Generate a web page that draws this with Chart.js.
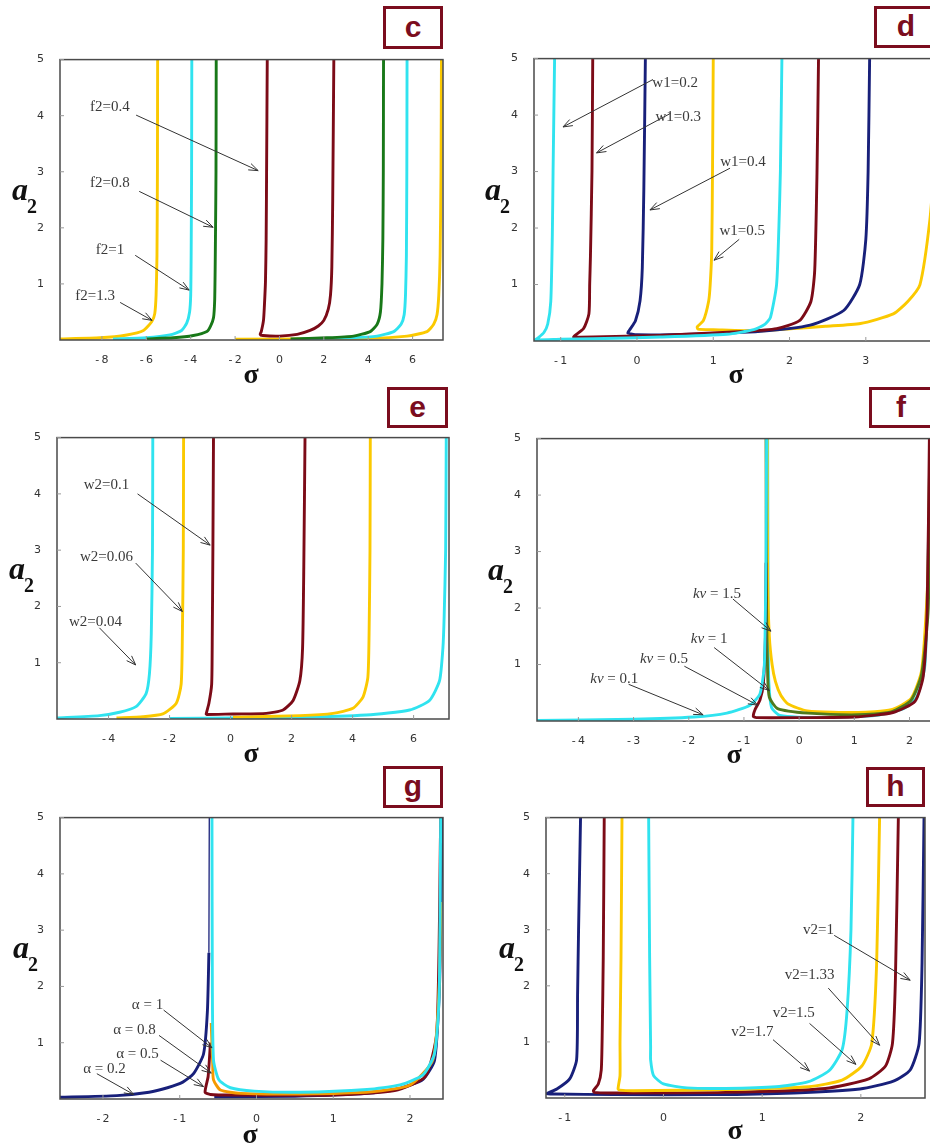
<!DOCTYPE html>
<html>
<head>
<meta charset="utf-8">
<script src="https://cdn.jsdelivr.net/npm/chart.js@4.4.1/dist/chart.umd.min.js"></script>
<style>
  body { margin: 0; width: 930px; height: 1147px; overflow: hidden; background: #fff; position: relative; }
  canvas { position: absolute; }
  .tag { position: absolute; box-sizing: border-box; border: 3px solid #7b0d1e; background: #fff; color: #7b0d1e;
         font: bold 30px "Liberation Sans", Arial, sans-serif; text-align: center; }
  .ya { position: absolute; font: bold italic 32px "Liberation Serif", serif; line-height: 32px; color: #111; }
  .y2 { position: absolute; font: bold 20px "Liberation Serif", serif; line-height: 20px; color: #111; }
  .xs { position: absolute; width: 40px; text-align: center; font: bold 28px "Liberation Serif", serif; line-height: 28px; color: #111; }
</style>
</head>
<body>
<script>
// tick labels
const yTicks = [1, 2, 3, 4, 5];
const cTicks = [-8, -6, -4, -2, 0, 2, 4, 6];
const dTicks = [-1, 0, 1, 2, 3];
const eTicks = [-4, -2, 0, 2, 4, 6];
const fTicks = [-4, -3, -2, -1, 0, 1, 2];
const gTicks = [-2, -1, 0, 1, 2];
const hTicks = [-1, 0, 1, 2];

// panel c : f2 = 0.4 (red), 0.8 (green), 1 (cyan), 1.3 (yellow)
const cRed = [[-0.55,5],[-0.58,3],[-0.6,1.8],[-0.63,1.05],[-0.68,0.6],[-0.72,0.35],[-0.82,0.15],[-0.87,0.1],[-0.75,0.08],[0,0.07],[0.8,0.1],[1.38,0.17],[1.75,0.25],[2.0,0.35],[2.2,0.55],[2.3,0.8],[2.36,1.3],[2.4,2.5],[2.45,5]];
const cGreenL = [[-2.85,5],[-2.86,3],[-2.88,2],[-2.9,1.2],[-2.92,0.7],[-2.97,0.4],[-3.1,0.25],[-3.27,0.15],[-3.88,0.08],[-4.78,0.04],[-6,0.02]];
const cGreenR = [[4.69,5],[4.68,3],[4.66,1.8],[4.62,1.0],[4.55,0.5],[4.4,0.28],[4.09,0.15],[3.34,0.07],[2.13,0.04],[0.5,0.02]];
const cCyanL = [[-3.95,5],[-3.96,3],[-3.98,1.5],[-4.0,0.8],[-4.05,0.5],[-4.18,0.3],[-4.41,0.17],[-4.94,0.09],[-6,0.04],[-7.5,0.02]];
const cCyanR = [[5.75,5],[5.74,3],[5.72,1.5],[5.68,0.8],[5.62,0.45],[5.48,0.28],[5.15,0.15],[4.4,0.07],[3.19,0.04],[1,0.02]];
const cYellowL = [[-5.49,5],[-5.5,3],[-5.52,1.5],[-5.56,0.8],[-5.62,0.47],[-5.75,0.33],[-6.13,0.17],[-6.88,0.09],[-8.08,0.04],[-9.9,0.02]];
const cYellowR = [[7.3,5],[7.28,3],[7.24,1.5],[7.18,0.8],[7.1,0.45],[6.95,0.28],[6.65,0.15],[5.75,0.07],[3.94,0.03],[-2,0.015]];

// panel d : w1 = 0.2 (cyan), 0.3 (red), 0.4 (navy), 0.5 (yellow)
const dCyan = [[-1.08,5],[-1.1,3],[-1.11,1.85],[-1.13,0.7],[-1.17,0.3],[-1.22,0.15],[-1.3,0.05],[-1.33,0.02],[-1.0,0.03],[-0.57,0.04],[0.3,0.07],[1.18,0.12],[1.53,0.2],[1.68,0.3],[1.75,0.42],[1.83,1.0],[1.86,2.0],[1.88,3],[1.9,5]];
const dRed = [[-0.58,5],[-0.59,3],[-0.61,1.5],[-0.62,1.0],[-0.63,0.48],[-0.7,0.22],[-0.81,0.1],[-0.83,0.07],[-0.57,0.07],[0.3,0.1],[1.4,0.17],[1.83,0.22],[2.13,0.36],[2.28,0.7],[2.33,1.25],[2.36,2.98],[2.38,5]];
const dNavy = [[0.11,5],[0.09,2.7],[0.07,1.3],[0.04,0.71],[-0.02,0.36],[-0.1,0.19],[-0.12,0.14],[0,0.11],[0.74,0.12],[1.62,0.17],[2.27,0.28],[2.71,0.54],[2.92,1.0],[3.0,1.8],[3.03,3],[3.05,5]];
const dYellow = [[1.0,5],[0.99,3],[0.98,1.6],[0.96,1.0],[0.94,0.71],[0.87,0.36],[0.79,0.25],[0.8,0.21],[1.0,0.2],[1.62,0.18],[2.05,0.22],[2.47,0.26],[2.93,0.31],[3.36,0.48],[3.55,0.7],[3.71,1.0],[3.84,2.15],[3.92,3.5]];

// panel e : w2 = 0.1 (red), 0.06 (yellow), 0.04 (cyan)
const eRed = [[-0.56,5],[-0.58,3],[-0.6,1.5],[-0.62,0.62],[-0.71,0.28],[-0.8,0.09],[-0.78,0.08],[0.08,0.09],[1.17,0.1],[1.72,0.16],[2.05,0.33],[2.27,0.68],[2.36,1.26],[2.4,2.7],[2.44,5]];
const eYellowL = [[-1.54,5],[-1.55,3],[-1.58,1.5],[-1.62,0.62],[-1.78,0.28],[-2.22,0.09],[-2.87,0.04],[-3.74,0.02]];
const eYellowR = [[4.58,5],[4.57,3],[4.54,1.5],[4.5,0.74],[4.34,0.39],[4.01,0.19],[3.36,0.1],[2.27,0.06],[0.08,0.03]];
const eCyanL = [[-2.55,5],[-2.56,3],[-2.6,1.5],[-2.66,0.8],[-2.77,0.45],[-3.1,0.22],[-3.64,0.12],[-4.3,0.06],[-5.7,0.02]];
const eCyanR = [[7.07,5],[7.05,3],[7.0,1.8],[6.96,1.26],[6.85,0.68],[6.52,0.33],[5.87,0.16],[4.45,0.07],[2.27,0.03],[-2,0.01]];

// panel f : kv = 0.1 (cyan), 0.5 (red), 1 (green), 1.5 (yellow)
const fCyanL = [[-4.8,0.01],[-3,0.03],[-1.91,0.07],[-1.31,0.14],[-0.89,0.28],[-0.71,0.48],[-0.63,1.0],[-0.6,3.0],[-0.59,5]];
const fCyanR = [[-0.57,5],[-0.56,1.5],[-0.55,0.7],[-0.5,0.24],[-0.35,0.1],[0.5,0.06],[1.4,0.1],[1.89,0.22],[2.13,0.42],[2.28,1.0],[2.34,3],[2.37,5]];
const fRed = [[-0.6,2.8],[-0.61,1.5],[-0.65,0.65],[-0.71,0.37],[-0.8,0.2],[-0.83,0.08],[-0.78,0.06],[0,0.06],[1,0.07],[1.7,0.15],[2.1,0.35],[2.25,0.8],[2.32,2],[2.36,5]];
const fGreen = [[-0.6,5],[-0.59,2],[-0.57,0.8],[-0.54,0.42],[-0.39,0.22],[0.16,0.14],[1.07,0.11],[1.67,0.16],[2.03,0.37],[2.22,0.83],[2.34,2],[2.37,5]];
const fYellow = [[-0.58,5],[-0.57,2.5],[-0.54,1.5],[-0.49,1.0],[-0.43,0.7],[-0.33,0.45],[-0.2,0.3],[0.15,0.18],[1.07,0.15],[1.67,0.2],[2.03,0.4],[2.22,0.9],[2.33,2.5],[2.37,5]];

// panel g : alpha = 0.2 (navy), 0.5 (red), 0.8 (orange), 1 (cyan)
const gNavyL = [[-2.6,0.03],[-1.82,0.06],[-1.4,0.12],[-1.16,0.2],[-0.96,0.3],[-0.82,0.45],[-0.69,0.8],[-0.64,1.55],[-0.62,2.6]];
const gNavyTop = [[-0.62,2.6],[-0.615,5]];
const gNavyR = [[-0.55,0.04],[0.5,0.05],[1.44,0.1],[1.87,0.19],[2.17,0.35],[2.32,0.69],[2.38,1.84],[2.4,3.0],[2.42,5]];
const gRed = [[-0.6,1.0],[-0.63,0.4],[-0.67,0.12],[-0.6,0.08],[-0.3,0.07],[1,0.07],[1.8,0.15],[2.2,0.4],[2.35,1.2],[2.4,5]];
const gOrange = [[-0.59,1.35],[-0.57,0.6],[-0.56,0.34],[-0.47,0.16],[-0.21,0.1],[0.57,0.09],[1.5,0.13],[2.0,0.25],[2.3,0.7],[2.38,2],[2.4,3.5]];
const gCyan = [[-0.58,5],[-0.575,2],[-0.56,0.69],[-0.49,0.34],[-0.34,0.2],[-0.03,0.14],[0.57,0.12],[1.44,0.17],[1.87,0.25],[2.17,0.43],[2.32,0.81],[2.38,1.84],[2.4,5]];

// panel h : v2 = 1 (navy), 1.33 (red), 1.5 (yellow), 1.7 (cyan)
const hNavy = [[-0.84,5],[-0.86,3.0],[-0.87,1.85],[-0.88,0.68],[-0.95,0.34],[-1.08,0.16],[-1.18,0.08],[-1.1,0.07],[-0.5,0.06],[0.5,0.06],[1.32,0.09],[1.99,0.16],[2.33,0.3],[2.5,0.5],[2.59,0.97],[2.62,2.4],[2.64,5]];
const hRed = [[-0.6,5],[-0.61,2.5],[-0.62,1.2],[-0.63,0.5],[-0.66,0.25],[-0.71,0.13],[-0.7,0.1],[-0.55,0.09],[0.63,0.1],[1.64,0.17],[2.08,0.34],[2.25,0.57],[2.32,0.97],[2.35,2.1],[2.38,5]];
const hYellow = [[-0.42,5],[-0.43,2.5],[-0.44,1.0],[-0.44,0.4],[-0.46,0.16],[-0.44,0.14],[-0.3,0.13],[0.63,0.15],[1.47,0.2],[1.81,0.32],[2.01,0.57],[2.11,0.97],[2.16,2.4],[2.19,5]];
const hCyan = [[-0.15,5],[-0.14,2.5],[-0.13,0.9],[-0.13,0.68],[-0.1,0.4],[0,0.25],[0.24,0.18],[0.63,0.17],[1.14,0.2],[1.47,0.29],[1.68,0.49],[1.81,0.86],[1.86,1.55],[1.9,3.0],[1.92,5]];

// annotations: text, text x/y, arrow from x/y, arrow to x/y (data units)
const cNotes = [["f2=0.4",-7.64,4.15,-6.46,4.01,-0.96,3.02],["f2=0.8",-7.64,2.79,-6.32,2.65,-2.99,2.01],["f2=1",-7.64,1.61,-6.5,1.51,-4.07,0.89],["f2=1.3",-8.31,0.79,-7.18,0.67,-5.74,0.35]];
const dNotes = [["w1=0.2",0.5,4.57,0.21,4.63,-0.97,3.79],["w1=0.3",0.54,3.97,0.44,4.03,-0.53,3.33],["w1=0.4",1.39,3.16,1.22,3.06,0.17,2.32],["w1=0.5",1.38,1.95,1.34,1.8,1.01,1.43]];
const eNotes = [["w2=0.1",-4.07,4.15,-3.05,4.0,-0.67,3.09],["w2=0.06",-4.07,2.88,-3.11,2.77,-1.58,1.91],["w2=0.04",-4.43,1.73,-4.3,1.62,-3.11,0.96]];
const fNotes = [["kv = 1.5",-1.49,2.25,-1.2,2.16,-0.51,1.59],["kv = 1",-1.63,1.45,-1.54,1.3,-0.54,0.54],["kv = 0.5",-2.45,1.09,-2.08,0.97,-0.75,0.28],["kv = 0.1",-3.35,0.75,-3.09,0.65,-1.74,0.11]];
const gNotes = [["\u03b1 = 1",-1.42,1.67,-1.21,1.58,-0.58,0.91],["\u03b1 = 0.8",-1.59,1.22,-1.27,1.13,-0.59,0.46],["\u03b1 = 0.5",-1.55,0.8,-1.25,0.69,-0.69,0.22],["\u03b1 = 0.2",-1.98,0.53,-2.08,0.45,-1.6,0.08]];
const hNotes = [["v2=1",1.57,3.0,1.73,2.9,2.5,2.1],["v2=1.33",1.48,2.19,1.67,1.96,2.19,0.94],["v2=1.5",1.32,1.51,1.48,1.33,1.95,0.6],["v2=1.7",0.9,1.17,1.11,1.04,1.48,0.48]];

const YEL = "#fbc900", CYA = "#30e3ef", GRN = "#187818", RED = "#7c0b17", NAV = "#18207a", ORA = "#f59a00", OLV = "#4f7a1c";

const panels = [
  { tag: "c", box: [60, 53, 443, 340], xr: [-9.89, 7.37], ticks: cTicks, notes: cNotes,
    lines: [[cRed, RED], [cGreenL, GRN], [cGreenR, GRN], [cCyanL, CYA], [cCyanR, CYA], [cYellowL, YEL], [cYellowR, YEL]],
    tagBox: [383, 6, 60, 43], ya: [12, 200], xs: [251, 377] },
  { tag: "d", box: [534, 52, 936, 341], xr: [-1.35, 3.92], ticks: dTicks, notes: dNotes,
    lines: [[dCyan, CYA], [dRed, RED], [dNavy, NAV], [dYellow, YEL]],
    tagBox: [874, 6, 64, 42], ya: [485, 200], xs: [736, 377] },
  { tag: "e", box: [57, 431, 449, 719], xr: [-5.69, 7.16], ticks: eTicks, notes: eNotes,
    lines: [[eRed, RED], [eYellowL, YEL], [eYellowR, YEL], [eCyanL, CYA], [eCyanR, CYA]],
    tagBox: [387, 387, 61, 41], ya: [9, 579], xs: [251, 756] },
  { tag: "f", box: [537, 432, 936, 721], xr: [-4.75, 2.48], ticks: fTicks, notes: fNotes,
    lines: [[fCyanL, CYA], [fRed, RED], [fGreen, OLV], [fYellow, YEL], [fCyanR, CYA]],
    tagBox: [869, 387, 64, 41], ya: [488, 580], xs: [734, 757] },
  { tag: "g", box: [60, 811, 443, 1099], xr: [-2.56, 2.43], ticks: gTicks, notes: gNotes,
    lines: [[gCyan, CYA], [gOrange, ORA], [gRed, RED], [gNavyL, NAV], [gNavyR, NAV], [gNavyTop, NAV, 1.3]],
    tagBox: [383, 766, 60, 42], ya: [13, 958], xs: [250, 1137] },
  { tag: "h", box: [546, 811, 925, 1098], xr: [-1.19, 2.65], ticks: hTicks, notes: hNotes,
    lines: [[hCyan, CYA], [hYellow, YEL], [hRed, RED], [hNavy, NAV]],
    tagBox: [866, 767, 59, 40], ya: [499, 958], xs: [735, 1133] }
];

const PADL = 45, PADT = 8, PADR = 8, PADB = 28;

const framePlugin = {
  id: "frame",
  afterDatasetsDraw(chart, args, opts) {
    const { ctx, chartArea: a, scales: { x, y } } = chart;
    ctx.save();
    ctx.strokeStyle = "#4a4a4a";
    ctx.lineWidth = 1.5;
    ctx.strokeRect(a.left, a.top, a.right - a.left, a.bottom - a.top);
    // small inward tick marks
    ctx.strokeStyle = "#999";
    ctx.lineWidth = 1;
    opts.ticks.forEach(v => {
      const px = x.getPixelForValue(v);
      ctx.beginPath(); ctx.moveTo(px, a.bottom); ctx.lineTo(px, a.bottom - 4); ctx.stroke();
    });
    yTicks.forEach(v => {
      const py = y.getPixelForValue(v);
      ctx.beginPath(); ctx.moveTo(a.left, py); ctx.lineTo(a.left + 4, py); ctx.stroke();
    });
    // annotations
    opts.notes.forEach(n => {
      const [txt, tx, ty, fx, fy, ax, ay] = n;
      const x0 = x.getPixelForValue(fx), y0 = y.getPixelForValue(fy);
      const x1 = x.getPixelForValue(ax), y1 = y.getPixelForValue(ay);
      ctx.strokeStyle = "#333";
      ctx.lineWidth = 1;
      ctx.beginPath(); ctx.moveTo(x0, y0); ctx.lineTo(x1, y1); ctx.stroke();
      const ang = Math.atan2(y1 - y0, x1 - x0), L = 10;
      ctx.beginPath();
      ctx.moveTo(x1 - L * Math.cos(ang - 0.35), y1 - L * Math.sin(ang - 0.35));
      ctx.lineTo(x1, y1);
      ctx.lineTo(x1 - L * Math.cos(ang + 0.35), y1 - L * Math.sin(ang + 0.35));
      ctx.stroke();
      const cx = x.getPixelForValue(tx), cy = y.getPixelForValue(ty);
      ctx.fillStyle = "#3a3a3a";
      ctx.textBaseline = "middle";
      ctx.textAlign = "left";
      if (txt.startsWith("kv")) {
        const rest = txt.slice(2);
        ctx.font = 'italic 15px "Liberation Serif"';
        const w1 = ctx.measureText("kv").width;
        ctx.font = '15px "Liberation Serif"';
        const w2 = ctx.measureText(rest).width;
        const sx = cx - (w1 + w2) / 2;
        ctx.font = 'italic 15px "Liberation Serif"';
        ctx.fillText("kv", sx, cy);
        ctx.font = '15px "Liberation Serif"';
        ctx.fillText(rest, sx + w1, cy);
      } else {
        ctx.font = '15px "Liberation Serif"';
        ctx.textAlign = "center";
        ctx.fillText(txt, cx, cy);
      }
    });
    ctx.restore();
  }
};

function lineSet(pts, color, w) {
  return {
    data: pts.map(p => ({ x: p[0], y: p[1] })),
    borderColor: color, borderWidth: w || 2.9, pointRadius: 0,
    showLine: true, fill: false, tension: 0.2
  };
}

function fmt(v) { return v < 0 ? "-\u2009" + Math.abs(v) : String(v); }

panels.forEach(p => {
  const [L, T, R, B] = p.box;
  const W = R - L + PADL + PADR, H = B - T + PADT + PADB;
  const cv = document.createElement("canvas");
  cv.width = W; cv.height = H;
  cv.style.width = W + "px"; cv.style.height = H + "px";
  cv.style.left = (L - PADL) + "px"; cv.style.top = (T - PADT) + "px";
  document.body.appendChild(cv);

  new Chart(cv, {
    type: "scatter",
    data: { datasets: p.lines.map(l => lineSet(l[0], l[1], l[2])) },
    options: {
      responsive: false, animation: false, events: [],
      layout: { padding: { top: PADT, right: PADR, left: 0, bottom: 0 } },
      plugins: { legend: { display: false }, tooltip: { enabled: false },
                 frame: { notes: p.notes, ticks: p.ticks } },
      scales: {
        x: {
          type: "linear", min: p.xr[0], max: p.xr[1],
          afterFit(s) { s.height = PADB; },
          afterBuildTicks(s) { s.ticks = p.ticks.map(v => ({ value: v })); },
          grid: { display: false }, border: { display: false },
          ticks: { color: "#333", padding: 6, maxRotation: 0, autoSkip: false,
                   font: { family: "DejaVu Sans", size: 11 }, callback: v => fmt(v) }
        },
        y: {
          type: "linear", min: 0, max: 5,
          afterFit(s) { s.width = PADL; },
          afterBuildTicks(s) { s.ticks = yTicks.map(v => ({ value: v })); },
          grid: { display: false }, border: { display: false },
          ticks: { color: "#333", padding: 8, font: { family: "DejaVu Sans", size: 11 } }
        }
      }
    },
    plugins: [framePlugin]
  });

  const tg = document.createElement("div");
  tg.className = "tag";
  const [tl, tt, tw, th] = p.tagBox;
  tg.style.cssText = `left:${tl}px;top:${tt}px;width:${tw}px;height:${th}px;line-height:${th - 8}px;`;
  tg.textContent = p.tag;
  document.body.appendChild(tg);

  const a = document.createElement("div");
  a.className = "ya";
  a.style.left = p.ya[0] + "px"; a.style.top = (p.ya[1] - 27) + "px";
  a.textContent = "a";
  document.body.appendChild(a);
  const two = document.createElement("div");
  two.className = "y2";
  two.style.left = (p.ya[0] + 15) + "px"; two.style.top = (p.ya[1] + 13 - 17) + "px";
  two.textContent = "2";
  document.body.appendChild(two);

  const s = document.createElement("div");
  s.className = "xs";
  s.style.left = (p.xs[0] - 20) + "px"; s.style.top = (p.xs[1] - 17) + "px";
  s.textContent = "\u03c3";
  document.body.appendChild(s);
});
</script>
</body>
</html>
